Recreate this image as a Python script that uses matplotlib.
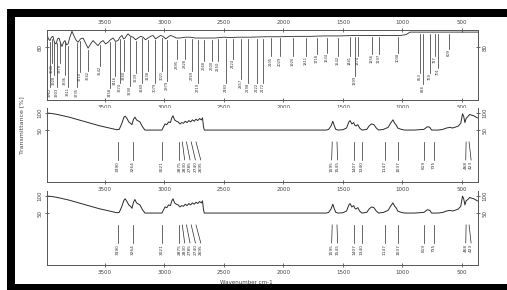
import matplotlib
matplotlib.use('Agg')
import matplotlib.pyplot as plt
from matplotlib.patches import Rectangle
import numpy as np

# ---------------- data ----------------
x_ticks = [3500, 3000, 2500, 2000, 1500, 1000, 500]
x_tick_labels = ["3500", "3000", "2500", "2000", "1500", "1000", "500"]

# panel 1 spectrum (wavenumber, transmittance)
spec_a_wn = [3987, 3975, 3962, 3950, 3937, 3925, 3911, 3898, 3886, 3873,
             3861, 3848, 3836, 3823, 3810, 3795, 3777, 3765, 3752, 3740,
             3726, 3705, 3684, 3663, 3642, 3620, 3600, 3580, 3558, 3537,
             3516, 3495, 3474, 3453, 3432, 3411, 3390, 3374, 3357, 3344,
             3331, 3318, 3306, 3285, 3264, 3243, 3222, 3200, 3180, 3159,
             3138, 3117, 3096, 3075, 3054, 3033, 3012, 2990, 2970, 2950,
             2928, 2900, 2869, 2830, 2785, 2740, 2701, 2640, 2575, 2500,
             2449, 2380, 2281, 2150, 2029, 1900, 1777, 1650, 1525, 1400,
             1273, 1150, 1021, 970, 937, 850, 750, 685, 600, 500,
             391, 365]
spec_a_t = [95, 90, 88, 92, 93, 86, 84, 90, 91, 85,
            81, 86, 88, 83, 84, 92, 99, 95, 91, 88,
            86, 90, 91, 85, 79, 84, 88, 85, 82, 86,
            88, 84, 86, 89, 91, 87, 88, 92, 94, 90,
            91, 94, 96, 93, 92, 89, 91, 93, 92, 89,
            91, 93, 94, 90, 92, 94, 93, 90, 92, 94,
            93, 91, 91, 92, 92, 91, 91, 91, 91, 92,
            91.5, 92, 92, 92.5, 92.5, 93, 93, 93.5, 93.5, 94,
            94, 94, 94, 95, 98, 98, 98, 98, 98, 98,
            98, 98]

# panel 1 peak labels: positions and label bottoms
peaks_a = [3962, 3945, 3928, 3903, 3878, 3836, 3811, 3735, 3710, 3642,
           3542, 3458, 3416, 3374, 3340, 3290, 3239, 3189, 3138, 3079,
           3021, 2979, 2895, 2828, 2769, 2719, 2668, 2600, 2550, 2483,
           2424, 2357, 2298, 2222, 2172, 2105, 2029, 1920, 1811, 1718,
           1634, 1542, 1441, 1399, 1374, 1256, 1197, 1038, 853, 828,
           769, 727, 701, 609]
peaks_a_bottom = [22, 50, 36, 22, 50, 36, 22, 22, 40, 41.2,
                  47, 21.2, 35.3, 27, 41.2, 23.6, 38.8, 27, 41.2, 27,
                  41.2, 29.4, 55.3, 55.3, 41.2, 27, 53, 53, 53, 27,
                  55.3, 31.8, 27, 27, 27, 58.8, 58.8, 58.8, 58.8, 61.2,
                  62.4, 58.8, 58.8, 35.3, 58.8, 61.2, 61.2, 62.4, 38.8, 25,
                  38.8, 58.8, 45, 67]

# panels 2 and 3 spectra
spec_b_wn = [3987, 3950, 3900, 3850, 3800, 3750, 3700, 3650, 3600, 3550,
             3500, 3450, 3400, 3380, 3360, 3340, 3330, 3315, 3300, 3285,
             3273, 3260, 3248, 3235, 3206, 3185, 3164, 3021, 3010, 2995,
             2980, 2965, 2950, 2938, 2928, 2915, 2900, 2885, 2870, 2855,
             2840, 2825, 2810, 2795, 2780, 2765, 2750, 2735, 2720, 2705,
             2690, 2680, 2672, 2665, 1640, 1620, 1600, 1585, 1572, 1560,
             1540, 1500, 1470, 1450, 1440, 1425, 1410, 1400, 1390, 1375,
             1360, 1340, 1300, 1280, 1260, 1240, 1220, 1200, 1160, 1120,
             1100, 1080, 1065, 1050, 1040, 1010, 980, 900, 820, 790,
             770, 755, 700, 660, 630, 600, 580, 560, 530, 510,
             495, 485, 475, 465, 450, 435, 420, 400, 380, 370]
spec_b_t = [100, 99, 96, 92, 88, 83, 78, 73, 68, 63,
            59, 55, 51, 52, 68, 88, 91, 84, 74, 70,
            66, 82, 88, 80, 74, 60, 50, 50, 58, 68,
            66, 74, 72, 86, 92, 80, 76, 74, 68, 72,
            70, 76, 72, 78, 74, 80, 76, 82, 78, 84,
            80, 86, 60, 50, 50, 52, 62, 76, 62, 52,
            50, 51, 56, 74, 78, 68, 72, 64, 62, 66,
            56, 50, 52, 62, 68, 66, 56, 50, 52, 58,
            70, 80, 70, 64, 56, 52, 50, 50, 52, 60,
            58, 50, 50, 52, 56, 58, 56, 58, 62, 70,
            98, 90, 72, 84, 90, 96, 94, 92, 88, 86]
spec_c_wn = list(spec_b_wn)
spec_c_t = [100, 99, 96, 92, 88, 83, 78, 73, 68, 63,
            59, 55, 51, 52, 68, 88, 92, 84, 74, 70,
            64, 82, 90, 80, 74, 60, 50, 50, 58, 68,
            66, 74, 72, 86, 92, 80, 76, 74, 68, 72,
            70, 76, 72, 78, 74, 80, 76, 82, 78, 84,
            80, 86, 60, 50, 50, 52, 62, 76, 62, 52,
            50, 51, 56, 74, 78, 68, 72, 64, 62, 66,
            56, 50, 52, 62, 68, 66, 56, 50, 52, 58,
            70, 80, 70, 64, 56, 52, 50, 50, 52, 60,
            58, 50, 50, 52, 56, 58, 56, 58, 62, 70,
            100, 92, 74, 86, 90, 96, 94, 92, 88, 86]

# peak marker tops (line start) and label positions for panels 2 and 3
peaks_bc = [3390, 3264, 3021, 2875, 2850, 2815, 2775, 2735, 1590, 1550,
            1407, 1340, 1147, 1037, 819, 735, 465, 440]
peaks_bc_text = [3390, 3264, 3021, 2875, 2830, 2785, 2740, 2695, 1595, 1545,
                 1407, 1340, 1147, 1037, 819, 735, 468, 423]

# ---------------- figure ----------------
W, H = 507, 290
fig = plt.figure(figsize=(W / 100, H / 100), dpi=100)
fig.patch.set_facecolor('white')

def rect_px(x0, y0, x1, y1):
    return [x0 / W, 1 - y1 / H, (x1 - x0) / W, (y1 - y0) / H]

# black frame bands
for (x0, y0, x1, y1) in [(7, 9, 15, 290), (7, 9, 507, 17), (7, 284, 507, 290)]:
    r = rect_px(x0, y0, x1, y1)
    fig.patches.append(Rectangle((r[0], r[1]), r[2], r[3], transform=fig.transFigure,
                                 facecolor='black', edgecolor='none', zorder=0))

LC = '#2a2a2a'
SC = '#555555'
FS = 4
XLIM = (3987, 365)

def style(ax, top_labels=False, top_spine=True):
    ax.set_xlim(*XLIM)
    ax.set_xticks(x_ticks)
    ax.set_xticklabels(x_tick_labels)
    for s in ax.spines.values():
        s.set_color(SC)
        s.set_linewidth(0.7)
    ax.spines['top'].set_visible(top_spine)
    ax.tick_params(axis='x', direction='inout', length=2.5, width=0.6, colors=SC,
                   labelsize=FS, labelcolor='#444444', pad=2,
                   top=top_labels, labeltop=top_labels, bottom=True, labelbottom=True)
    ax.tick_params(axis='y', direction='inout', length=2.5, width=0.6, colors=SC,
                   labelsize=FS, labelcolor='#444444', pad=2, labelrotation=90,
                   left=True, right=True, labelleft=True, labelright=True)
    for lab in ax.get_yticklabels(which='both'):
        lab.set_verticalalignment('center')

ax1 = fig.add_axes(rect_px(47, 30, 478, 100))
ax2 = fig.add_axes(rect_px(47, 108, 478, 182))
ax3 = fig.add_axes(rect_px(47, 191, 478, 265))

# panel 1
ax1.set_ylim(17.6, 100.5)
ax1.set_yticks([80])
ax1.set_yticklabels(["80"])
style(ax1, top_labels=True, top_spine=True)
ax1.plot(spec_a_wn, spec_a_t, color=LC, lw=0.6)
for wn, bot in zip(peaks_a, peaks_a_bottom):
    y0 = np.interp(wn, spec_a_wn[::-1], spec_a_t[::-1]) - 2
    yend = bot + 11
    ax1.plot([wn, wn], [y0, yend], color=LC, lw=0.5)
    ax1.text(wn, yend - 0.5, f"{wn}", rotation=90, ha='center', va='top',
             fontsize=2.6, color='#333333')

# panels 2 & 3
for ax, wn_list, t_list in [(ax2, spec_b_wn, spec_b_t), (ax3, spec_c_wn, spec_c_t)]:
    ax.set_ylim(-103, 115)
    ax.set_yticks([50, 100])
    ax.set_yticklabels(["50", "100"])
    style(ax, top_labels=False, top_spine=False)
    ax.plot(wn_list, t_list, color=LC, lw=0.7)
    for wn, wt in zip(peaks_bc, peaks_bc_text):
        ax.plot([wn, wt], [15, -38], color=LC, lw=0.5)
        ax.text(wt, -41, f"{wt}", rotation=90, ha='center', va='top',
                fontsize=3.1, color='#333333')

fig.text(22 / W, 1 - 125 / H, "Transmittance [%]", rotation=90, ha='center', va='center',
         fontsize=4.5, color='#444444')
fig.text(246 / W, 1 - 282 / H, "Wavenumber cm-1", ha='center', va='center',
         fontsize=4, color='#444444')

fig.savefig('out.png', dpi=100, facecolor='white')
